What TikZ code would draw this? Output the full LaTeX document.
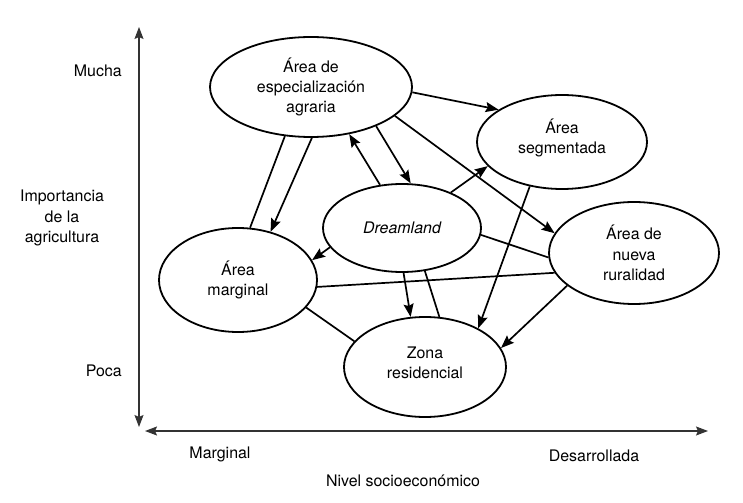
\documentclass[tikz,border=0pt]{standalone}
\usepackage{fontspec}
\setmainfont{TeX Gyre Heros}
\usetikzlibrary{shapes.geometric,arrows.meta}
\begin{document}
\begin{tikzpicture}[x=1bp,y=-1bp,
  every node/.style={font=\fontsize{16}{20.5}\selectfont},
  zone/.style={ellipse,draw,line width=1.8bp,inner sep=0pt,align=center},
  link/.style={line width=1.7bp},
  arr/.style={line width=1.7bp,-{Stealth[length=13bp,width=10bp,inset=2bp]}},
  axis/.style={line width=1.3bp,draw=black!80,{Stealth[length=12bp,width=9bp,inset=2bp]}-{Stealth[length=12bp,width=9bp,inset=2bp]}},
  lbl/.style={inner sep=0pt,align=center}]
\useasboundingbox (0,0) rectangle (743,503);
% axes
\coordinate (ytop) at (139,27);
\coordinate (ybot) at (139,427);
\coordinate (xl) at (145,431);
\coordinate (xr) at (708,431);
\draw[axis] (ytop) -- (ybot);
\draw[axis] (xl) -- (xr);
\node[lbl,anchor=east] (mucha) at (122,71) {Mucha};
\node[lbl,anchor=east] (poca) at (122,371) {Poca};
\node[lbl] (imp) at (62,218) {Importancia\\de la\\agricultura};
\node[lbl] (marg) at (220,454) {Marginal};
\node[lbl] (des) at (594,456) {Desarrollada};
\node[lbl] (nivel) at (403,481) {Nivel socioeconómico};
% zones
\node[zone,minimum width=202bp,minimum height=100bp] (esp) at (311,87) {Área de\\especialización\\agraria};
\node[zone,minimum width=170bp,minimum height=94bp] (seg) at (562,142) {};
\node[lbl] (segtext) at (562,138) {Área\\segmentada};
\node[zone,minimum width=170bp,minimum height=102bp] (nue) at (634,253) {Área de\\nueva\\ruralidad};
\node[zone,minimum width=158bp,minimum height=88bp] (dre) at (402,228) {\itshape Dreamland};
\node[zone,minimum width=158bp,minimum height=104bp] (mar) at (238,280) {Área\\marginal};
\node[zone,minimum width=162bp,minimum height=100bp] (zon) at (425,367) {};
\node[lbl] (zontext) at (425,363) {Zona\\residencial};
% connectors
\draw[arr] (esp.-3) -- (seg.153.4);
\draw[link] (esp.242.5) -- (mar.77.6);
\draw[arr] (esp.271) -- (mar.56.3);
\draw[arr] (dre.117) -- (esp.-51);
\draw[arr] (esp.-31.2) -- (dre.79.7);
\draw[arr] (esp.-19.7) -- (nue.166.5);
\draw[arr] (dre.36.7) -- (seg.198.7);
\draw[link] (dre.-5.1) -- (nue.183.5);
\draw[link] (mar.-5.9) -- (nue.194.2);
\draw[arr] (dre.195.2) -- (mar.15.1);
\draw[arr] (dre.-88.7) -- (zon.106.7);
\draw[link] (dre.-62.9) -- (zon.74);
\draw[link] (mar.-22.4) -- (zon.160.3);
\draw[arr] (seg.234.6) -- (zon.36.9);
\draw[arr] (nue.206.9) -- (zon.14.6);
\end{tikzpicture}
\end{document}
